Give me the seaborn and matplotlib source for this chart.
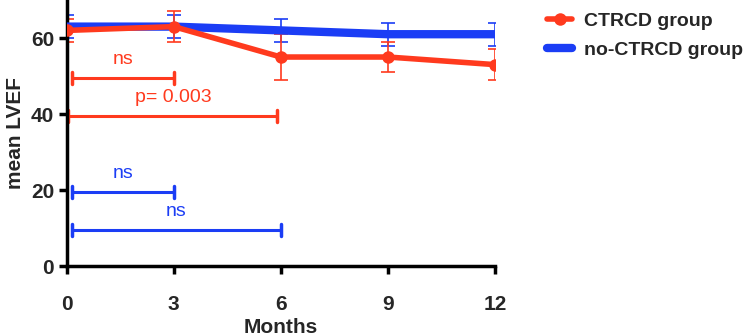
import numpy as np
import pandas as pd
import matplotlib
matplotlib.use("Agg")
import matplotlib.pyplot as plt
import seaborn as sns

months = [0, 3, 6, 9, 12]
ctrcd_mean = [62, 63, 55, 55, 53]
ctrcd_err = [3, 4, 6, 4, 4]
noctrcd_mean = [63, 63, 62, 61, 61]
noctrcd_err = [3, 3, 3, 3, 3]

# comparison brackets: (start, end, height, label)
ctrcd_brackets = [(0.15, 3, 49.5, "ns"), (0.05, 5.9, 39.5, "p= 0.003")]
noctrcd_brackets = [(0.15, 3, 19.5, "ns"), (0.15, 6, 9.5, "ns")]

RED = "#FF3A1E"
BLUE = "#1B3DF5"

sns.set_style("ticks")
plt.rcParams["font.family"] = ["Liberation Sans", "DejaVu Sans"]
plt.rcParams["font.weight"] = "bold"

df = pd.DataFrame({
    "Months": months * 2,
    "LVEF": ctrcd_mean + noctrcd_mean,
    "group": ["CTRCD group"] * 5 + ["no-CTRCD group"] * 5,
})

fig = plt.figure(figsize=(7.49, 3.36), dpi=100)
ax = fig.add_axes([0.089, 0.208, 0.572, 0.792])

ax.errorbar(months, noctrcd_mean, yerr=noctrcd_err, fmt="none", ecolor=BLUE,
            elinewidth=1.2, capsize=5, capthick=1.2, zorder=2)
ax.errorbar(months, ctrcd_mean, yerr=ctrcd_err, fmt="none", ecolor=RED,
            elinewidth=1.2, capsize=5, capthick=1.2, zorder=2)

sns.lineplot(data=df[df.group == "no-CTRCD group"], x="Months", y="LVEF",
             color=BLUE, lw=6, ax=ax, label="no-CTRCD group", zorder=3)
sns.lineplot(data=df[df.group == "CTRCD group"], x="Months", y="LVEF",
             color=RED, lw=4, marker="o", markersize=9, markeredgewidth=0,
             ax=ax, label="CTRCD group", zorder=4)

for brackets, col in [(ctrcd_brackets, RED), (noctrcd_brackets, BLUE)]:
    for x0, x1, yv, lab in brackets:
        ax.plot([x0, x1], [yv, yv], color=col, lw=2.2)
        ax.plot([x0, x0], [yv - 1.5, yv + 1.5], color=col, lw=2.5)
        ax.plot([x1, x1], [yv - 1.5, yv + 1.5], color=col, lw=2.5)
        ax.text((x0 + x1) / 2, yv + 2.5, lab, color=col, ha="center",
                va="bottom", fontsize=14, fontweight="normal")

ax.set_xlim(0, 12)
ax.set_ylim(0, 70)
ax.set_xticks([0, 3, 6, 9, 12])
ax.set_yticks([0, 20, 40, 60])
ax.set_xlabel("Months", fontsize=15, fontweight="bold", labelpad=3)
ax.set_ylabel("mean LVEF", fontsize=15, fontweight="bold", labelpad=4)
ax.tick_params(labelsize=15, width=2.5, length=6, color="black")
ax.tick_params(axis="x", pad=15)
ax.tick_params(axis="y", pad=3)
for s in ["left", "bottom"]:
    ax.spines[s].set_linewidth(2.5)
    ax.spines[s].set_color("black")
sns.despine(ax=ax)

handles, labels = ax.get_legend_handles_labels()
order = [labels.index("CTRCD group"), labels.index("no-CTRCD group")]
ax.legend([handles[i] for i in order], [labels[i] for i in order],
          loc="upper left", bbox_to_anchor=(1.08, 1.02), frameon=False,
          prop={"weight": "bold", "size": 14}, handlelength=1.3,
          handletextpad=0.6, labelspacing=0.6)

fig.savefig("out.png", dpi=100)
